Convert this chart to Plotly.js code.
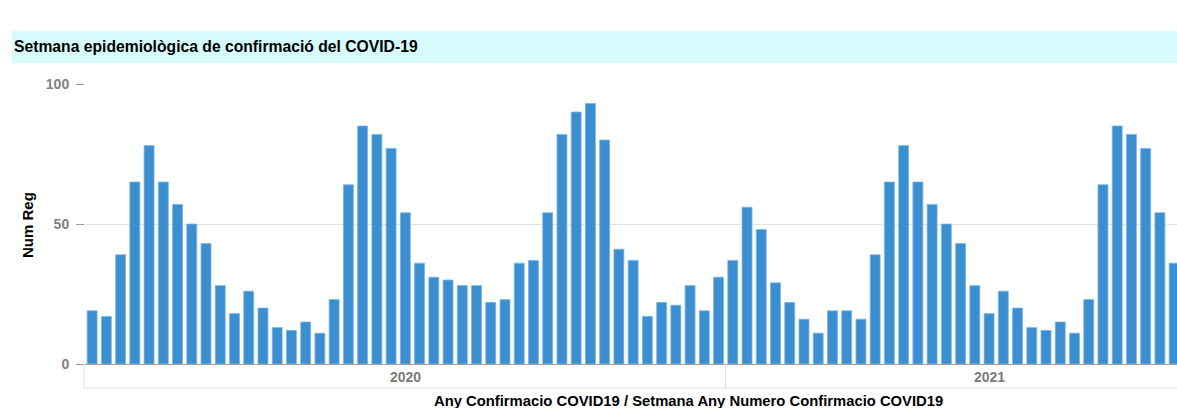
<!DOCTYPE html>
<html>
<head>
<meta charset="utf-8">
<script src="https://cdn.plot.ly/plotly-3.0.1.min.js"></script>
<style>
  html, body { margin: 0; padding: 0; background: #fff; }
  #chart { width: 1177px; height: 408px; }
</style>
</head>
<body>
<div id="chart"></div>
<script>
// ---- data ----
const yearLabels = ['2020', '2021'];
// number of weeks that each year group spans on the full axis
const yearGroupWeeks = [45, 37];
const values2020 = [19, 17, 39, 65, 78, 65, 57, 50, 43, 28, 18, 26, 20, 13, 12, 15, 11, 23, 64, 85,
                    82, 77, 54, 36, 31, 30, 28, 28, 22, 23, 36, 37, 54, 82, 90, 93, 80, 41, 37, 17,
                    22, 21, 28, 19, 31];
const values2021 = [37, 56, 48, 29, 22, 16, 11, 19, 19, 16, 39, 65, 78, 65, 57, 50, 43, 28, 18, 26,
                    20, 13, 12, 15, 11, 23, 64, 85, 82, 77, 54, 36];
const yTickVals = [0, 50, 100];
const titleText = 'Setmana epidemiològica de confirmació del COVID-19';
const xTitleText = 'Any Confirmacio COVID19 / Setmana Any Numero Confirmacio COVID19';
const yTitleText = 'Num Reg';

// ---- build categories ----
const seriesByYear = [values2020, values2021];
const categories = [];
const values = [];
seriesByYear.forEach((vals, yi) => {
  vals.forEach((v, wi) => {
    categories.push(yearLabels[yi] + ' / ' + String(wi + 1).padStart(2, '0'));
    values.push(v);
  });
});

// plot geometry (pixels of the 1177x408 page)
const W = 1177, H = 408;
const mL = 85, mR = 0, mT = 84, mB = 44;
const plotH = H - mT - mB, plotW = W - mL - mR;
const py = px => (H - mB - px) / plotH;   // page y pixel -> paper y
const pxX = px => (px - mL) / plotW;      // page x pixel -> paper x

const grey = '#dcdcdc';
const boxBottom = py(388);

const shapes = [
  // title band
  { type: 'rect', xref: 'paper', yref: 'paper', x0: pxX(12), x1: 1, y0: py(63), y1: py(31),
    fillcolor: '#d6fbfc', line: { width: 0 }, layer: 'below' },
  // x axis category box
  { type: 'line', xref: 'paper', yref: 'paper', x0: pxX(84), x1: pxX(84), y0: 0, y1: boxBottom,
    line: { color: grey, width: 1 } },
  { type: 'line', xref: 'paper', yref: 'paper', x0: pxX(84), x1: 1, y0: boxBottom, y1: boxBottom,
    line: { color: grey, width: 1 } }
];
const annotations = [];
let start = 0;
yearGroupWeeks.forEach((n, yi) => {
  if (yi > 0) {
    shapes.push({ type: 'line', xref: 'x', yref: 'paper', x0: start - 0.5, x1: start - 0.5,
                  y0: 0, y1: boxBottom, line: { color: grey, width: 1 } });
  }
  annotations.push({ xref: 'x', yref: 'paper', x: start + (n - 1) / 2, y: py(377),
    text: yearLabels[yi], showarrow: false, xanchor: 'center', yanchor: 'middle',
    font: { family: 'Liberation Sans, Arial, sans-serif', size: 14, weight: 'bold', color: '#7a7a7a' } });
  start += n;
});
annotations.push({ xref: 'paper', yref: 'paper', x: pxX(688), y: py(401), text: xTitleText,
  showarrow: false, xanchor: 'center', yanchor: 'middle',
  font: { family: 'Liberation Sans, Arial, sans-serif', size: 14.8, weight: 'bold', color: '#000' } });
annotations.push({ xref: 'paper', yref: 'paper', x: pxX(27), y: py(225), text: yTitleText,
  textangle: -90, showarrow: false, xanchor: 'center', yanchor: 'middle',
  font: { family: 'Liberation Sans, Arial, sans-serif', size: 15, weight: 'bold', color: '#000' } });

const trace = {
  type: 'bar',
  x: categories,
  y: values,
  marker: { color: '#3b8ecf', line: { color: '#78b6e6', width: 0.8 } },
  hoverinfo: 'x+y'
};

const layout = {
  width: W, height: H,
  margin: { l: mL, r: mR, t: mT, b: mB, pad: 0 },
  paper_bgcolor: '#ffffff', plot_bgcolor: '#ffffff',
  showlegend: false,
  bargap: 0.3,
  title: { text: titleText, xref: 'container', yref: 'container', x: 14 / W, xanchor: 'left',
           y: 1 - 47 / H, yanchor: 'middle',
           font: { family: 'Liberation Sans, Arial, sans-serif', size: 15.7, weight: 'bold', color: '#000' } },
  xaxis: { type: 'category', range: [-0.5, categories.length - 0.8], showticklabels: false,
           ticks: '', showgrid: false, zeroline: false, showline: false, fixedrange: true },
  yaxis: { range: [0, 100], tickvals: yTickVals, ticktext: yTickVals.map(String),
           ticks: 'outside', ticklen: 8, tickcolor: '#9a9a9a', tickwidth: 1, ticklabelstandoff: 4,
           showgrid: true, gridcolor: '#e3e3e3', gridwidth: 1,
           zeroline: true, zerolinecolor: '#a0a0a0', zerolinewidth: 1, showline: false,
           tickfont: { family: 'Liberation Sans, Arial, sans-serif', size: 14, weight: 'bold', color: '#7f7f7f' },
           fixedrange: true },
  shapes: shapes,
  annotations: annotations
};

Plotly.newPlot('chart', [trace], layout, { displayModeBar: false, staticPlot: true });
</script>
</body>
</html>
